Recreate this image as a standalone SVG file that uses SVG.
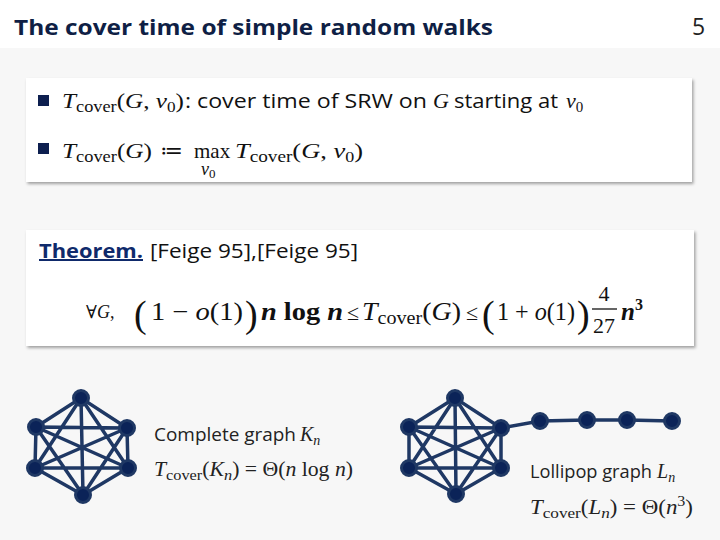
<svg xmlns="http://www.w3.org/2000/svg" width="720" height="540" viewBox="0 0 720 540">
<defs>
<style>
.sans{font-family:"Open Sans","Noto Sans","DejaVu Sans",sans-serif;}
.m{font-family:"Liberation Serif","DejaVu Serif",serif;}
.i{font-style:italic;}
.t{fill:#111;}
.edge{stroke:#1f3864;stroke-width:3.5;stroke-linecap:round;fill:none;}
.node{fill:#0b2358;stroke:#1f3864;stroke-width:3;}
</style>
<filter id="sh" x="-5%" y="-10%" width="110%" height="130%">
<feDropShadow dx="1.5" dy="2" stdDeviation="1.5" flood-color="#000" flood-opacity="0.35"/>
</filter>
</defs>
<rect width="720" height="540" fill="#f7f7f7"/>
<rect width="720" height="48" fill="#ffffff"/>
<text x="14" y="35" class="sans" font-size="22" font-weight="bold" fill="#0f1f45" textLength="479" lengthAdjust="spacingAndGlyphs">The cover time of simple random walks</text>
<text x="692" y="35" class="sans" font-size="23" fill="#222">5</text>

<g id="box1">
<rect x="26" y="78" width="666" height="104" fill="#fff" filter="url(#sh)"/>
<rect x="38" y="95" width="11" height="11" fill="#0d1f4f"/>
<text x="62" y="108" font-size="22" class="m t" textLength="122" lengthAdjust="spacingAndGlyphs"><tspan class="i">T</tspan><tspan font-size="16" dy="4">cover</tspan><tspan dy="-4">(</tspan><tspan class="i">G</tspan><tspan>, </tspan><tspan class="i">v</tspan><tspan font-size="15" dy="4">0</tspan><tspan dy="-4">)</tspan></text>
<text x="185" y="108" font-size="20" class="sans t" textLength="242" lengthAdjust="spacingAndGlyphs">: cover time of SRW on</text>
<text x="433" y="108" font-size="22" class="m i t">G</text>
<text x="454" y="108" font-size="20" class="sans t" textLength="104" lengthAdjust="spacingAndGlyphs">starting at</text>
<text x="566" y="108" font-size="22" class="m t"><tspan class="i">v</tspan><tspan font-size="15" dy="4">0</tspan></text>

<rect x="38" y="143" width="11" height="11" fill="#0d1f4f"/>
<text x="62" y="158" font-size="22" class="m t" textLength="90" lengthAdjust="spacingAndGlyphs"><tspan class="i">T</tspan><tspan font-size="16" dy="4">cover</tspan><tspan dy="-4">(</tspan><tspan class="i">G</tspan><tspan>)</tspan></text>
<text x="160" y="158" font-size="22" class="m t">≔</text>
<text x="194" y="158" font-size="21" class="m t">max</text>
<text x="201" y="175" font-size="18" class="m t"><tspan class="i">v</tspan><tspan font-size="13" dy="3">0</tspan></text>
<text x="235" y="158" font-size="22" class="m t" textLength="128" lengthAdjust="spacingAndGlyphs"><tspan class="i">T</tspan><tspan font-size="16" dy="4">cover</tspan><tspan dy="-4">(</tspan><tspan class="i">G</tspan><tspan>, </tspan><tspan class="i">v</tspan><tspan font-size="15" dy="4">0</tspan><tspan dy="-4">)</tspan></text>
</g>

<g id="box2">
<rect x="26" y="230" width="668" height="116" fill="#fff" filter="url(#sh)"/>
<text x="39" y="258" font-size="20" font-weight="bold" fill="#0f2a6b" class="sans" text-decoration="underline" textLength="104" lengthAdjust="spacingAndGlyphs">Theorem.</text>
<text x="150" y="258" font-size="20" class="sans t" textLength="208" lengthAdjust="spacingAndGlyphs">[Feige 95],[Feige 95]</text>
<text x="86" y="318" font-size="18" class="m t">∀<tspan class="i">G</tspan>,</text>
<text x="134" y="327" font-size="38" class="m t">(</text>
<text x="151" y="320" font-size="25" class="m t" textLength="92" lengthAdjust="spacingAndGlyphs">1 − <tspan class="i">o</tspan>(1)</text>
<text x="245" y="327" font-size="38" class="m t">)</text>
<text x="261" y="320" font-size="25" class="m t" font-weight="bold" textLength="82" lengthAdjust="spacingAndGlyphs"><tspan class="i">n</tspan> log <tspan class="i">n</tspan></text>
<text x="347" y="320" font-size="22" class="m t">≤</text>
<text x="362" y="320" font-size="25" class="m t" textLength="99" lengthAdjust="spacingAndGlyphs"><tspan class="i">T</tspan><tspan font-size="18" dy="4">cover</tspan><tspan dy="-4">(</tspan><tspan class="i">G</tspan><tspan>)</tspan></text>
<text x="466" y="320" font-size="22" class="m t">≤</text>
<text x="482" y="327" font-size="38" class="m t">(</text>
<text x="497" y="320" font-size="25" class="m t" textLength="78" lengthAdjust="spacingAndGlyphs">1 + <tspan class="i">o</tspan>(1)</text>
<text x="577" y="327" font-size="38" class="m t">)</text>
<text x="604" y="301" font-size="22" class="m t" text-anchor="middle">4</text>
<line x1="592" y1="309" x2="617" y2="309" stroke="#111" stroke-width="1.3"/>
<text x="604" y="333" font-size="22" class="m t" text-anchor="middle">27</text>
<text x="621" y="320" font-size="25" class="m t" font-weight="bold"><tspan class="i">n</tspan><tspan font-size="16" dy="-10">3</tspan></text>
</g>

<g id="connectors">
<g class="edge">
<path d="M81 398L36 427L35 468L83 495L128 468L127 428Z"/>
<path d="M81 398L83 495M36 427L128 468M127 428L35 468M81 398L35 468M81 398L128 468M36 427L127 428M35 468L128 468M36 427L83 495M127 428L83 495"/>
<path d="M455 398L409 427L409 468L456 494L501 468L501 428Z"/>
<path d="M455 398L456 494M409 427L501 468M501 428L409 468M455 398L409 468M455 398L501 468M409 427L501 428M409 468L501 468M409 427L456 494M501 428L456 494"/>
<path d="M501 428L540 421L587 420L627 420L672 421"/>
</g>
</g>

<g id="complete-graph">
<circle class="node" cx="81" cy="398" r="7.5"/>
<circle class="node" cx="36" cy="427" r="7.5"/>
<circle class="node" cx="127" cy="428" r="7.5"/>
<circle class="node" cx="35" cy="468" r="7.5"/>
<circle class="node" cx="128" cy="468" r="7.5"/>
<circle class="node" cx="83" cy="495" r="7.5"/>
</g>
<g id="lollipop-graph">
<circle class="node" cx="455" cy="398" r="7.5"/>
<circle class="node" cx="409" cy="427" r="7.5"/>
<circle class="node" cx="501" cy="428" r="7.5"/>
<circle class="node" cx="409" cy="468" r="7.5"/>
<circle class="node" cx="501" cy="468" r="7.5"/>
<circle class="node" cx="456" cy="494" r="7.5"/>
<circle class="node" cx="540" cy="421" r="7.5"/>
<circle class="node" cx="587" cy="420" r="7.5"/>
<circle class="node" cx="627" cy="420" r="7.5"/>
<circle class="node" cx="672" cy="421" r="7.5"/>
</g>

<g id="label-complete">
<text x="154" y="441" font-size="19" fill="#222" class="sans" textLength="142" lengthAdjust="spacingAndGlyphs">Complete graph</text>
<text x="300" y="441" font-size="20" fill="#222" class="m"><tspan class="i">K</tspan><tspan class="i" font-size="14" dy="4">n</tspan></text>
<text x="154" y="476" font-size="20" fill="#222" class="m" textLength="199" lengthAdjust="spacingAndGlyphs"><tspan class="i">T</tspan><tspan font-size="15" dy="4">cover</tspan><tspan dy="-4">(</tspan><tspan class="i">K</tspan><tspan class="i" font-size="15" dy="4">n</tspan><tspan dy="-4">) = Θ(</tspan><tspan class="i">n</tspan><tspan> log </tspan><tspan class="i">n</tspan><tspan>)</tspan></text>
</g>
<g id="label-lollipop">
<text x="530" y="478" font-size="19" fill="#222" class="sans" textLength="122" lengthAdjust="spacingAndGlyphs">Lollipop graph</text>
<text x="657" y="478" font-size="20" fill="#222" class="m"><tspan class="i">L</tspan><tspan class="i" font-size="14" dy="4">n</tspan></text>
<text x="530" y="514" font-size="20" fill="#222" class="m" textLength="163" lengthAdjust="spacingAndGlyphs"><tspan class="i">T</tspan><tspan font-size="15" dy="4">cover</tspan><tspan dy="-4">(</tspan><tspan class="i">L</tspan><tspan class="i" font-size="15" dy="4">n</tspan><tspan dy="-4">) = Θ(</tspan><tspan class="i">n</tspan><tspan font-size="14" dy="-8">3</tspan><tspan dy="8">)</tspan></text>
</g>
</svg>
